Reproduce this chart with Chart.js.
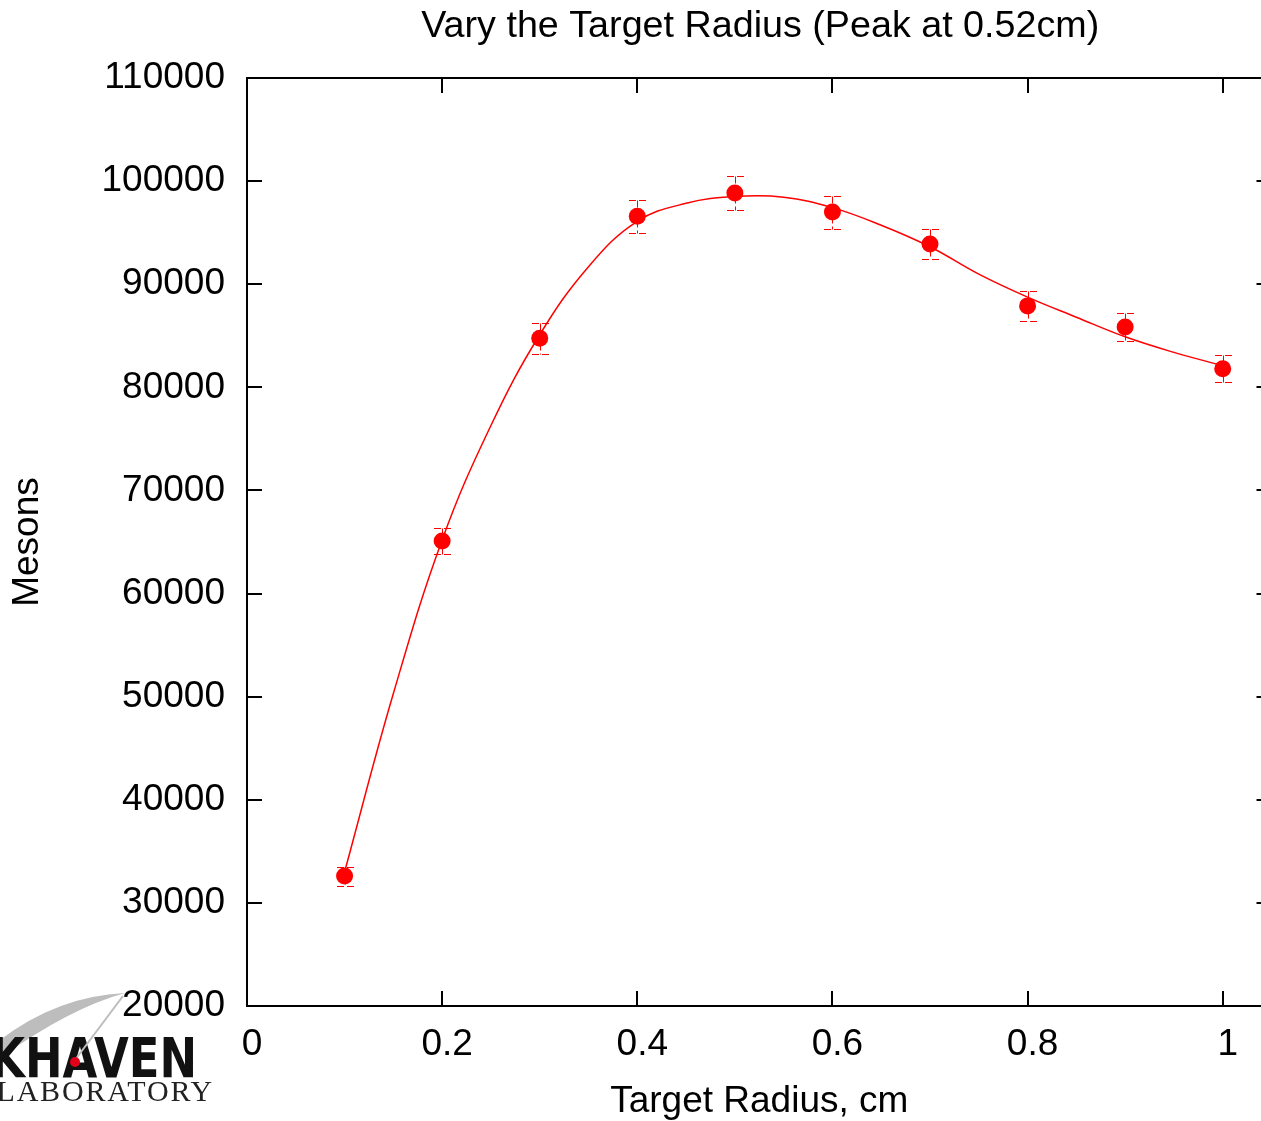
<!DOCTYPE html>
<html>
<head>
<meta charset="utf-8">
<title>Vary the Target Radius</title>
<script src="https://cdn.jsdelivr.net/npm/chart.js@4/dist/chart.umd.min.js"></script>
<style>
    html, body { margin: 0; padding: 0; background: #fff; overflow: hidden; }
    #wrap { width: 1280px; height: 1121px; }
</style>
</head>
<body>
<div id="wrap"><canvas id="graficoMesoni" width="1280" height="1121"></canvas></div>
<script>
// misure: raggio del bersaglio (cm), mesoni contati e incertezza
const radius = [0.1, 0.2, 0.3, 0.4, 0.5, 0.6, 0.7, 0.8, 0.9, 1.0];
const mesons = [32600, 65100, 84750, 96600, 98850, 97000, 93900, 87900, 85850, 81800];
const mesonErr = [920, 1260, 1500, 1600, 1650, 1600, 1500, 1450, 1400, 1300];

// curva di fit, un valore ogni 0.05 cm
const fitRadius = [0.10, 0.15, 0.20, 0.25, 0.30, 0.35, 0.40, 0.45, 0.50, 0.55,
                   0.60, 0.65, 0.70, 0.75, 0.80, 0.85, 0.90, 0.95, 1.00];
const fitMesons = [33000, 50300, 65200, 76300, 85100, 91700, 96100, 97850, 98500, 98440,
                   97430, 95720, 93630, 90980, 88750, 86800, 84900, 83390, 82100];

const xTicks = [0, 0.2, 0.4, 0.6, 0.8, 1];
const yMin = 20000, yMax = 110000, yStep = 10000;

const titolo = 'Vary the Target Radius (Peak at 0.52cm)';
const FONT = '"Liberation Sans", Arial, sans-serif';
const ROSSO = '#ff0000';

// logo in basso a sinistra
function disegnaLogo(ctx) {
    ctx.save();
    ctx.fillStyle = '#bdbdbd';
    ctx.beginPath();
    ctx.moveTo(0, 1040);
    ctx.quadraticCurveTo(58, 996, 125, 993);
    ctx.quadraticCurveTo(70, 1008, 0, 1058);
    ctx.closePath();
    ctx.fill();

    ctx.fillStyle = '#111';
    ctx.font = 'bold 56px "DejaVu Sans Condensed", "DejaVu Sans", sans-serif';
    ctx.textBaseline = 'alphabetic';
    const wHaven = ctx.measureText('HAVEN').width;
    const sx = 172 / wHaven;
    ctx.save();
    ctx.translate(197, 1077);
    ctx.scale(sx, 1);
    ctx.textAlign = 'right';
    ctx.fillText('KHAVEN', 0, 0);
    ctx.restore();

    ctx.strokeStyle = '#bdbdbd';
    ctx.lineWidth = 2;
    ctx.beginPath();
    ctx.moveTo(123, 996);
    ctx.lineTo(75, 1060);
    ctx.stroke();
    ctx.fillStyle = '#e0001a';
    ctx.beginPath();
    ctx.arc(75, 1062, 5, 0, Math.PI * 2);
    ctx.fill();

    ctx.fillStyle = '#222';
    ctx.font = '30px "Liberation Serif", "DejaVu Serif", serif';
    ctx.textAlign = 'right';
    if ('letterSpacing' in ctx) ctx.letterSpacing = '1.8px';
    ctx.fillText('LABORATORY', 214, 1101);
    ctx.restore();
}

const cornice = {
    id: 'cornice',
    beforeDraw(chart) {
        disegnaLogo(chart.ctx);
    },
    beforeDatasetsDraw(chart) {
        // barre d'errore tratteggiate
        const { ctx, scales: { x, y } } = chart;
        ctx.save();
        ctx.strokeStyle = ROSSO;
        ctx.lineWidth = 1;
        ctx.setLineDash([7, 3]);
        radius.forEach((r, i) => {
            const px = Math.round(x.getPixelForValue(r)) + 0.5;
            const top = Math.round(y.getPixelForValue(mesons[i] + mesonErr[i])) + 0.5;
            const bot = Math.round(y.getPixelForValue(mesons[i] - mesonErr[i])) + 0.5;
            ctx.beginPath();
            ctx.moveTo(px, top); ctx.lineTo(px, bot);
            ctx.moveTo(px - 8.5, top); ctx.lineTo(px + 8.5, top);
            ctx.moveTo(px - 8.5, bot); ctx.lineTo(px + 8.5, bot);
            ctx.stroke();
        });
        ctx.restore();
    },
    afterDraw(chart) {
        const { ctx, chartArea: a, scales: { x, y } } = chart;
        ctx.save();
        ctx.strokeStyle = '#000';
        ctx.lineWidth = 2;
        ctx.strokeRect(a.left, a.top, a.right - a.left, a.bottom - a.top);

        // tacche verso l'interno su tutti e quattro i lati
        const tl = 15;
        ctx.beginPath();
        x.ticks.forEach(t => {
            const px = Math.round(x.getPixelForValue(t.value));
            ctx.moveTo(px, a.bottom); ctx.lineTo(px, a.bottom - tl);
            ctx.moveTo(px, a.top); ctx.lineTo(px, a.top + tl);
        });
        y.ticks.forEach(t => {
            const py = Math.round(y.getPixelForValue(t.value));
            ctx.moveTo(a.left, py); ctx.lineTo(a.left + tl, py);
            ctx.moveTo(a.right, py); ctx.lineTo(a.right - tl, py);
        });
        ctx.stroke();

        ctx.fillStyle = '#000';
        ctx.font = '37.7px ' + FONT;
        ctx.textAlign = 'center';
        ctx.textBaseline = 'alphabetic';
        ctx.fillText(titolo, (a.left + a.right) / 2 + 1, 37);
        ctx.restore();
    }
};

new Chart(document.getElementById('graficoMesoni'), {
    type: 'line',
    data: {
        datasets: [{
            label: 'fit',
            data: fitRadius.map((r, i) => ({ x: r, y: fitMesons[i] })),
            borderColor: ROSSO,
            borderWidth: 1.5,
            pointRadius: 0,
            tension: 0.4,
            order: 2
        }, {
            label: 'Mesons',
            data: radius.map((r, i) => ({ x: r, y: mesons[i] })),
            showLine: false,
            pointRadius: 8.5,
            pointBackgroundColor: ROSSO,
            pointBorderWidth: 0,
            order: 1
        }]
    },
    options: {
        responsive: false,
        devicePixelRatio: 1,
        animation: false,
        layout: { padding: { top: 78, right: 7, left: 0, bottom: 0 } },
        plugins: {
            legend: { display: false },
            tooltip: { enabled: false }
        },
        scales: {
            x: {
                type: 'linear',
                min: 0,
                max: 1.05,
                afterBuildTicks: scale => { scale.ticks = xTicks.map(v => ({ value: v })); },
                afterFit: scale => { scale.height = 115; },
                grid: { display: false, drawTicks: false },
                border: { display: false },
                ticks: {
                    padding: 17,
                    labelOffset: 5,
                    maxRotation: 0,
                    color: '#000',
                    font: { family: FONT, size: 37 },
                    callback: v => String(v)
                },
                title: {
                    display: true,
                    text: 'Target Radius, cm',
                    color: '#000',
                    padding: { top: 0, bottom: -3 },
                    font: { family: FONT, size: 37, lineHeight: 1.2 }
                }
            },
            y: {
                min: yMin,
                max: yMax,
                afterFit: scale => { scale.width = 247; },
                grid: { display: false, drawTicks: false },
                border: { display: false },
                ticks: {
                    stepSize: yStep,
                    padding: 22,
                    color: '#000',
                    font: { family: FONT, size: 37 },
                    callback: v => String(v)
                },
                title: {
                    display: true,
                    text: 'Mesons',
                    color: '#000',
                    padding: { top: 6, bottom: 0 },
                    font: { family: FONT, size: 37, lineHeight: 1.2 }
                }
            }
        }
    },
    plugins: [cornice]
});
</script>
</body>
</html>
